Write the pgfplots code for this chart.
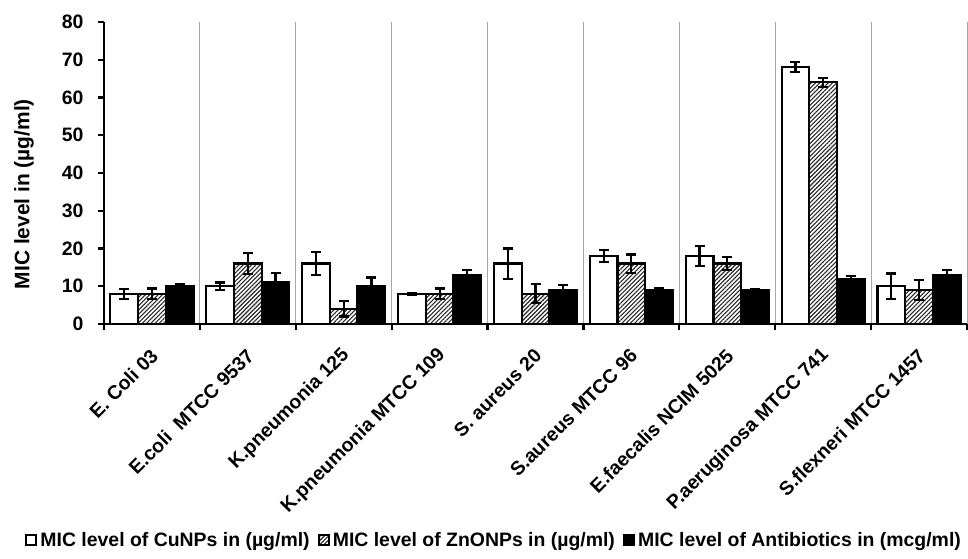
\documentclass[border=0pt]{standalone}
\usepackage{pgfplots}
\pgfplotsset{compat=1.18}
\usetikzlibrary{patterns.meta}
\usepackage{fontspec}
\setmainfont{Liberation Sans}
\newcommand{\lbl}{\fontsize{19.5}{21}\selectfont\bfseries}
\newcommand{\ylbl}{\fontsize{21}{23}\selectfont\bfseries}
\begin{document}
\begin{tikzpicture}[x=1bp,y=1bp]
\path[use as bounding box] (0,0) rectangle (968,559);
\begin{axis}[
  at={(104bp,235bp)}, anchor=south west,
  width=863bp, height=302bp, scale only axis,
  xmin=0.5, xmax=9.5, ymin=0, ymax=80,
  ytick={0,10,...,80},
  xtick={1,...,9},
  xticklabels={E. Coli 03, E.coli\ \ MTCC 9537, K.pneumonia 125, K.pneumonia MTCC 109, S. aureus 20, S.aureus MTCC 96, E.faecalis NCIM 5025, P.aeruginosa MTCC 741, S.flexneri MTCC 1457},
  minor xtick={0.5,1.5,...,9.5},
  xminorgrids, minor grid style={black!35, line width=1bp},
  axis x line*=bottom, axis y line*=left,
  axis line style={line width=2.2bp, black, -},
  tick align=outside,
  major tick length=6bp, minor tick length=6bp,
  every tick/.style={black, line width=2.2bp},
  major x tick style={draw=none},
  /pgf/number format/assume math mode=true,
  ticklabel style={font=\lbl},
  yticklabel style={xshift=-11bp},
  xticklabel style={yshift=-20bp, xshift=5bp, rotate=45, anchor=east},
  ylabel={MIC level in (µg/ml)},
  every axis y label/.style={at={(axis description cs:0,0.43)}, xshift=-80bp, rotate=90, anchor=center, font=\ylbl},
  ybar=0pt, bar width=27.7bp,
  legend style={at={(axis description cs:0.452,-0.715)}, anchor=center, draw=none, fill=none, font=\lbl, legend columns=3,
    /tikz/every odd column/.append style={column sep=1bp},
    /tikz/every even column/.append style={column sep=6bp}},
  legend image code/.code={\draw[#1, line width=2.2bp] (0bp,-5bp) rectangle (10bp,5bp);},
  error bars/y dir=both, error bars/y explicit,
  error bars/error bar style={line width=2.2bp, black},
  error bars/error mark options={rotate=90, mark size=5bp, line width=2.2bp, black},
]
\addplot[fill=white, draw=black, line width=2.2bp] coordinates {
 (1,8) +- (0,1.3) (2,10) +- (0,1) (3,16) +- (0,3.1) (4,8) +- (0,0.3) (5,16) +- (0,4)
 (6,18) +- (0,1.5) (7,18) +- (0,2.6) (8,68) +- (0,1.3) (9,10) +- (0,3.4)};
\addplot[draw=black, line width=2.2bp, pattern={Lines[angle=45,distance=3bp,line width=1.1bp]}, pattern color=black!85] coordinates {
 (1,8) +- (0,1.4) (2,16) +- (0,2.8) (3,4) +- (0,2) (4,8) +- (0,1.4) (5,8) +- (0,2.5)
 (6,16) +- (0,2.4) (7,16) +- (0,1.8) (8,64) +- (0,1.2) (9,9) +- (0,2.6)};
\addplot[fill=black, draw=black, line width=2.2bp] coordinates {
 (1,10) +- (0,0.6) (2,11) +- (0,2.6) (3,10) +- (0,2.3) (4,13) +- (0,1.3) (5,9) +- (0,1.4)
 (6,9) +- (0,0.5) (7,9) +- (0,0.3) (8,12) +- (0,0.7) (9,13) +- (0,1.3)};
\legend{MIC level of CuNPs in (µg/ml), MIC level of ZnONPs in (µg/ml), MIC level of Antibiotics in (mcg/ml)}
\end{axis}
\end{tikzpicture}
\end{document}
